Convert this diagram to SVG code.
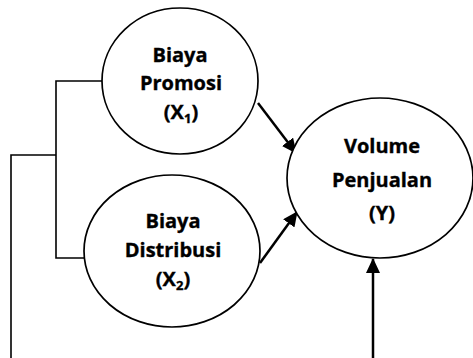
<svg xmlns="http://www.w3.org/2000/svg" width="473" height="358" viewBox="0 0 473 358">
<style>
.n{fill:#fff;stroke:#000;stroke-width:1.7}
.t{font-family:"Open Sans","Liberation Sans",sans-serif;font-weight:700;font-size:20px;fill:#000;stroke:#000;stroke-width:0.35;text-anchor:middle}
.s{font-size:13px}
.l{fill:none;stroke:#000;stroke-width:1.6}
.a{fill:none;stroke:#000;stroke-width:2.5}
</style>
<defs>
<marker id="ah" markerWidth="15" markerHeight="14" refX="14" refY="7" orient="auto" markerUnits="userSpaceOnUse">
<path d="M0,0 L15,7 L0,14 Z" fill="#000"/>
</marker>
</defs>
<g id="connectors">
<path class="l" d="M102,81 H56 V258 H85"/>
<path class="l" d="M56,155 H11 V358"/>
<line class="a" x1="258" y1="103" x2="296" y2="153" marker-end="url(#ah)"/>
<line class="a" x1="260" y1="263" x2="297" y2="212" marker-end="url(#ah)"/>
<line class="a" x1="373" y1="358" x2="373" y2="259" marker-end="url(#ah)"/>
</g>
<g id="x1">
<ellipse class="n" cx="180" cy="81" rx="78" ry="73"/>
<text class="t" x="180" y="62">Biaya</text>
<text class="t" x="181" y="90">Promosi</text>
<text class="t" x="181" y="119">(X<tspan class="s" dy="4">1</tspan><tspan dy="-4">)</tspan></text>
</g>
<g id="x2">
<ellipse class="n" cx="172" cy="251" rx="88" ry="76"/>
<text class="t" x="173" y="228">Biaya</text>
<text class="t" x="173" y="257">Distribusi</text>
<text class="t" x="173" y="286">(X<tspan class="s" dy="4">2</tspan><tspan dy="-4">)</tspan></text>
</g>
<g id="y">
<ellipse class="n" cx="380" cy="178" rx="93" ry="80"/>
<text class="t" x="382" y="153">Volume</text>
<text class="t" x="382" y="187">Penjualan</text>
<text class="t" x="382" y="220">(Y)</text>
</g>
</svg>
